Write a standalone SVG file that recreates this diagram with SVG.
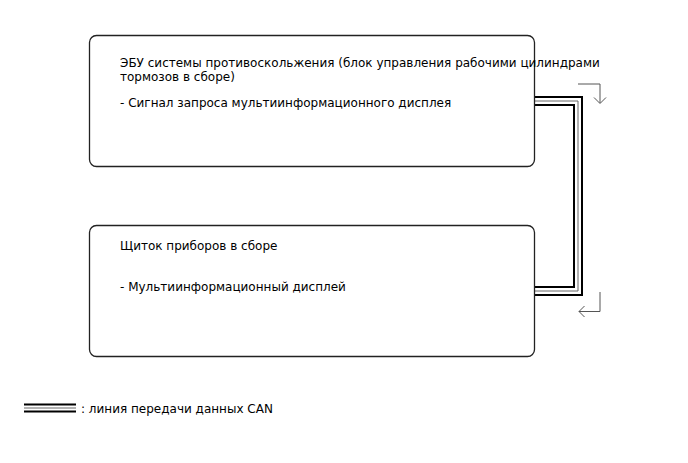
<svg xmlns="http://www.w3.org/2000/svg" width="688" height="463" viewBox="0 0 688 463">
<style>
text{font-family:"DejaVu Sans","Liberation Sans",sans-serif;font-size:12px;fill:#000}
.box{fill:#fff;stroke:#222;stroke-width:1.3}
.c1{fill:none;stroke:#000;stroke-width:10}
.c2{fill:none;stroke:#fff;stroke-width:6}
.c3{fill:none;stroke:#666;stroke-width:1}
.ar{fill:none;stroke:#555;stroke-width:1}
</style>
<rect width="688" height="463" fill="#fff"/>
<g id="connectors">
<path class="c1" d="M535,101 H578 V291 H535"/>
<path class="c2" d="M535,101 H578 V291 H535"/>
<path class="c3" d="M535,101 H578 V291 H535"/>
<path class="ar" d="M578,84 H600 V103 M594,97.5 L600,103.5 L606,97.5"/>
<path class="ar" d="M600,292 V311.5 H579 M584.5,306 L579,311.5 L584.5,317"/>
</g>
<g id="node-ecu">
<rect class="box" x="89.5" y="35.5" width="445" height="131" rx="7"/>
<text x="120" y="67">ЭБУ системы противоскольжения (блок управления рабочими цилиндрами</text>
<text x="120" y="81">тормозов в сборе)</text>
<text x="120" y="107">- Сигнал запроса мультиинформационного дисплея</text>
</g>
<g id="node-meter">
<rect class="box" x="89.5" y="225.5" width="445" height="131" rx="7"/>
<text x="120" y="250">Щиток приборов в сборе</text>
<text x="120" y="291">- Мультиинформационный дисплей</text>
</g>
<g id="legend">
<path class="c1" d="M24,408 H76" style="stroke-width:9"/>
<path class="c2" d="M24,408 H76" style="stroke-width:5"/>
<path class="c3" d="M24,408 H76"/>
<text x="81" y="413">: линия передачи данных CAN</text>
</g>
</svg>
